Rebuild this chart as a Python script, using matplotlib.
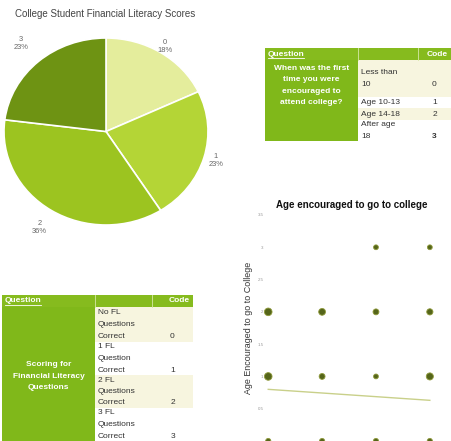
import numpy as np
import matplotlib.pyplot as plt
from matplotlib.patches import Rectangle

plt.rcParams['font.family'] = ['Liberation Sans', 'DejaVu Sans']

# pie data
pie_cats = ['0', '1', '2', '3']
pie_pcts = [18, 23, 36, 23]
pie_colors = ['#e4ed9c', '#b4d536', '#9cc420', '#6e9313']

# table 1
q1_text = ['When was the first', 'time you were', 'encouraged to', 'attend college?']
q1_answers = [['Less than', '10'], ['Age 10-13'], ['Age 14-18'], ['After age', '18']]
q1_codes = [0, 1, 2, 3]

# table 2
q2_text = ['Scoring for', 'Financial Literacy', 'Questions']
q2_answers = [['No FL', 'Questions', 'Correct'], ['1 FL', 'Question', 'Correct'],
              ['2 FL', 'Questions', 'Correct'], ['3 FL', 'Questions', 'Correct']]
q2_codes = [0, 1, 2, 3]

# scatter data (x, age code)
sc_x = [0, 0, 0, 1, 1, 1, 2, 2, 2, 2, 3, 3, 3, 3]
sc_y = [2, 1, 0, 2, 1, 0, 3, 2, 1, 0, 3, 2, 1, 0]
sc_s = [30, 30, 14, 24, 18, 14, 12, 18, 12, 14, 12, 20, 26, 14]
trend_x = [0, 3]
trend_y = [0.80, 0.63]

W, H = 451, 441
fig = plt.figure(figsize=(W / 100, H / 100), dpi=100)

def box(x0, y0, x1, y1):
    return [x0 / W, 1 - y1 / H, (x1 - x0) / W, (y1 - y0) / H]

# ---- pie
ax = fig.add_axes(box(4, 38, 208, 225))
labels = [f'{c}\n{p}%' for c, p in zip(pie_cats, pie_pcts)]
wedges, texts = ax.pie(pie_pcts, colors=pie_colors, startangle=90, counterclock=False,
                       labels=labels, labeldistance=1.15,
                       wedgeprops=dict(edgecolor='white', linewidth=1.2),
                       textprops=dict(fontsize=5.4, color='#666666', ha='center', va='center'))
# push the labels out a bit differently per slice, like the original
for w, t, d in zip(wedges, texts, [1.08, 1.12, 1.22, 1.26]):
    ang = np.deg2rad((w.theta1 + w.theta2) / 2)
    t.set_position((d * np.cos(ang), d * np.sin(ang)))
ax.set_aspect('auto')
ax.set_xlim(-1, 1)
ax.set_ylim(-1, 1)
fig.text(15 / W, 1 - 14 / H, 'College Student Financial Literacy Scores', fontsize=7,
         color='#444444', va='center', ha='left')

# ---- background axes for tables
bg = fig.add_axes([0, 0, 1, 1], zorder=-1)
bg.set_xlim(0, W)
bg.set_ylim(H, 0)
bg.axis('off')

hdr_green = '#86bb1e'
cell_green = '#80b81a'
cream = '#f7f5df'
lh = 11.5

def draw_table(x0, x1, x2, x3, hy0, hy1, rows, qtext, qc, answers, codes, fs=6):
    # header
    bg.add_patch(Rectangle((x0, hy0), x3 - x0, hy1 - hy0, color=hdr_green, lw=0))
    for xd in (x1, x2):
        bg.plot([xd, xd], [hy0, hy1], color='#d6e8a6', lw=0.6)
    hc = (hy0 + hy1) / 2
    bg.text(x0 + 3, hc, 'Question', color='white', fontsize=fs, fontweight='bold', va='center')
    bg.plot([x0 + 3, x0 + 39], [hc + 4, hc + 4], color='white', lw=0.6)
    bg.text(x3 - 3, hc, 'Code', color='white', fontsize=fs, fontweight='bold', va='center', ha='right')
    # left cell
    bg.add_patch(Rectangle((x0, rows[0]), x1 - x0, rows[-1] - rows[0], color=cell_green, lw=0))
    for k, line in enumerate(qtext):
        bg.text((x0 + x1) / 2, qc + (k - (len(qtext) - 1) / 2) * lh, line, color='white',
                fontsize=fs, fontweight='bold', ha='center', va='center')
    # rows
    for i, (ans, code) in enumerate(zip(answers, codes)):
        ya, yb = rows[i], rows[i + 1]
        bg.add_patch(Rectangle((x1, ya), x3 - x1, yb - ya, color=cream if i % 2 == 0 else 'white', lw=0))
        c = (ya + yb) / 2
        for k, line in enumerate(ans):
            bg.text(x1 + 3, c + (k - (len(ans) - 1) / 2) * lh, line, color='#333333',
                    fontsize=fs, va='center')
        bg.text((x2 + x3) / 2, c + (len(ans) - 1) / 2 * lh, str(code), color='#333333',
                fontsize=fs, va='center', ha='center',
                fontweight='bold' if i == len(answers) - 1 and len(qtext) == 4 else 'normal')

draw_table(265, 358, 418, 451, 48, 60, [60, 97, 108, 120, 141], q1_text, 85.5, q1_answers, q1_codes)
draw_table(2, 95, 152, 193, 295, 307, [307, 342, 375, 408, 441], q2_text, 376, q2_answers, q2_codes)

# ---- scatter
sx = fig.add_axes(box(265, 215, 446, 441))
sx.scatter(sc_x, sc_y, s=sc_s, color='#55651a', edgecolors='#8f9a3a', linewidths=0.6,
           zorder=3, clip_on=False)
sx.plot(trend_x, trend_y, color='#c9d08a', lw=1)
sx.set_xlim(-0.06, 3.3)
sx.set_ylim(0, 3.5)
sx.set_yticks([0.5, 1, 1.5, 2, 2.5, 3, 3.5])
sx.set_yticklabels(['0.5', '1', '1.5', '2', '2.5', '3', '3.5'])
sx.tick_params(axis='y', length=0, labelsize=3.2, labelcolor='#999999', pad=1)
sx.set_xticks([])
for sp in sx.spines.values():
    sp.set_visible(False)
sx.set_ylabel('Age Encouraged to go to College', fontsize=6.4, color='#333333', labelpad=3)
fig.text(352 / W, 1 - 205 / H, 'Age encouraged to go to college', fontsize=7,
         fontweight='bold', ha='center', va='center', color='#111111')

fig.savefig('out.png', dpi=100)
